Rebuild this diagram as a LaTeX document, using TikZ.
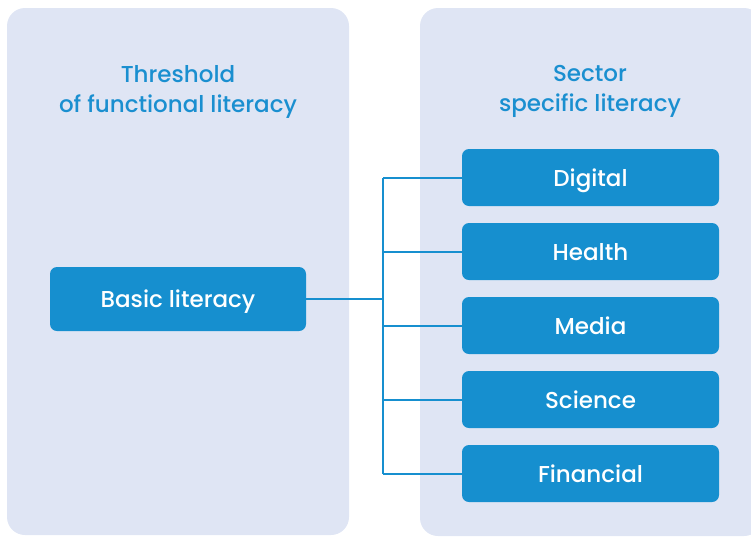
\documentclass[tikz,border=0pt]{standalone}
\usepackage{fontspec}
\setmainfont{Poppins}
\newfontfamily\pmed{Poppins Medium}
\definecolor{panelbg}{HTML}{DFE5F4}
\definecolor{boxblue}{HTML}{168FCF}
\definecolor{titleblue}{HTML}{1A8FD0}
\begin{document}
\begin{tikzpicture}[x=1pt,y=-1pt,
  panel/.style={fill=panelbg, draw=none, rounded corners=18pt},
  litbox/.style={fill=boxblue, draw=none, rounded corners=7pt, text=white,
    font=\pmed\fontsize{23}{28}\selectfont, inner sep=0pt, text depth=0pt},
  paneltitle/.style={text=titleblue, align=center, font=\pmed\fontsize{23}{30}\selectfont},
  conn/.style={draw=boxblue, line width=2pt}]
\useasboundingbox (0,0) rectangle (751,536);
\clip (0,0) rectangle (751,536);
\fill[panel] (7,8) rectangle (349,535);
\fill[panel] (420,8) rectangle (762,536);
\node[paneltitle] (t1) at (178,92) {Threshold\\of functional literacy};
\node[paneltitle] (t2) at (590,91) {Sector\\specific literacy};
\node[litbox, minimum width=256pt, minimum height=64pt] (basic) at (178,299) {Basic literacy};
\node[litbox, minimum width=257pt, minimum height=57pt] (digital) at (590.5,177.5) {Digital};
\node[litbox, minimum width=257pt, minimum height=57pt] (health) at (590.5,251.5) {Health};
\node[litbox, minimum width=257pt, minimum height=57pt] (media) at (590.5,325.5) {Media};
\node[litbox, minimum width=257pt, minimum height=57pt] (science) at (590.5,399.5) {Science};
\node[litbox, minimum width=257pt, minimum height=57pt] (financial) at (590.5,473.5) {Financial};
\coordinate (j) at (383,299);
\draw[conn] (basic.east) -- (j);
\draw[conn] (j |- digital.west) -- (j |- financial.west);
\foreach \b in {digital,health,media,science,financial}
  \draw[conn] (j |- \b.west) -- (\b.west);
\end{tikzpicture}
\end{document}
